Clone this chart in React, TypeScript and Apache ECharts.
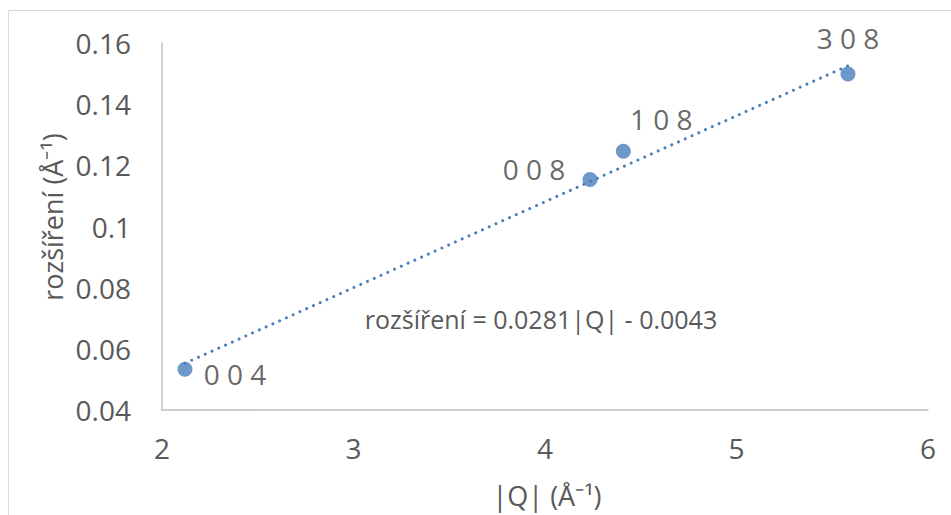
import React, { useEffect, useRef } from 'react';
import * as echarts from 'echarts';

const qValues = [2.12, 4.235, 4.409, 5.582];
const broadening = [0.0533, 0.1154, 0.1246, 0.1499];
const reflections = ['0 0 4', '0 0 8', '1 0 8', '3 0 8'];
const trendSlope = 0.0281;
const trendIntercept = -0.0043;
const equationText = 'rozšíření = 0.0281|Q| - 0.0043';
const xTitle = '|Q| (Å⁻¹)';
const yTitle = 'rozšíření (Å⁻¹)';

const FONT = "'Open Sans', sans-serif";
const BLUE = '#4a7ebb';

export default function App() {
  const ref = useRef<HTMLDivElement>(null);
  useEffect(() => {
    if (!ref.current) return;
    const chart = echarts.init(ref.current, undefined, { renderer: 'svg' });
    const labelOffsets: number[][] = [
      [50, 5],
      [-56, -10],
      [38, -32],
      [0, -36],
    ];
    const points = qValues.map((q, i) => ({
      value: [q, broadening[i]],
      label: {
        show: true,
        formatter: reflections[i],
        position: 'inside',
        offset: labelOffsets[i],
        color: '#404040',
        fontSize: 28,
        fontFamily: FONT,
      },
    }));
    const xMin = Math.min(...qValues);
    const xMax = Math.max(...qValues);
    const trend = [
      [xMin, trendSlope * xMin + trendIntercept],
      [xMax, trendSlope * xMax + trendIntercept],
    ];
    chart.setOption({
      animation: false,
      backgroundColor: '#ffffff',
      grid: { left: 162, right: 23, top: 43, bottom: 105, containLabel: false },
      xAxis: {
        type: 'value',
        min: 2,
        max: 6,
        interval: 1,
        axisLine: { show: true, onZero: false, lineStyle: { color: '#bfbfbf', width: 1.5 } },
        axisTick: { show: false },
        splitLine: { show: false },
        axisLabel: { color: '#595959', fontSize: 28, fontFamily: FONT, margin: 24 },
      },
      yAxis: {
        type: 'value',
        min: 0.04,
        max: 0.16,
        interval: 0.02,
        axisLine: { show: true, onZero: false, lineStyle: { color: '#bfbfbf', width: 1.5 } },
        axisTick: { show: false },
        splitLine: { show: false },
        axisLabel: { color: '#595959', fontSize: 28, fontFamily: FONT, margin: 31 },
      },
      graphic: [
        {
          type: 'rect',
          shape: { x: 8.5, y: 10.5, width: 1200, height: 1000 },
          style: { fill: 'none', stroke: '#d9d9d9', lineWidth: 1 },
          silent: true,
        },
        {
          type: 'text',
          x: 541,
          y: 319,
          style: {
            text: equationText,
            fill: '#595959',
            fontSize: 25,
            fontFamily: FONT,
            textAlign: 'center',
            textVerticalAlign: 'middle',
          },
        },
        {
          type: 'text',
          x: 547,
          y: 495,
          style: {
            text: xTitle,
            fill: '#595959',
            fontSize: 27,
            fontFamily: FONT,
            textAlign: 'center',
            textVerticalAlign: 'middle',
          },
        },
        {
          type: 'text',
          x: 52,
          y: 217,
          rotation: Math.PI / 2,
          style: {
            text: yTitle,
            fill: '#595959',
            fontSize: 27,
            fontFamily: FONT,
            textAlign: 'center',
            textVerticalAlign: 'middle',
          },
        },
      ],
      series: [
        {
          type: 'line',
          data: trend,
          showSymbol: false,
          symbol: 'none',
          silent: true,
          lineStyle: { color: BLUE, width: 3, type: [0.01, 7.4], cap: 'round' },
          z: 1,
        },
        {
          type: 'scatter',
          data: points,
          symbol: 'circle',
          symbolSize: 15,
          itemStyle: { color: BLUE },
          z: 2,
        },
      ],
    });
    return () => chart.dispose();
  }, []);
  return (
    <div
      ref={ref}
      style={{ position: 'fixed', left: 0, top: 0, width: 951, height: 515, background: '#fff' }}
    />
  );
}
